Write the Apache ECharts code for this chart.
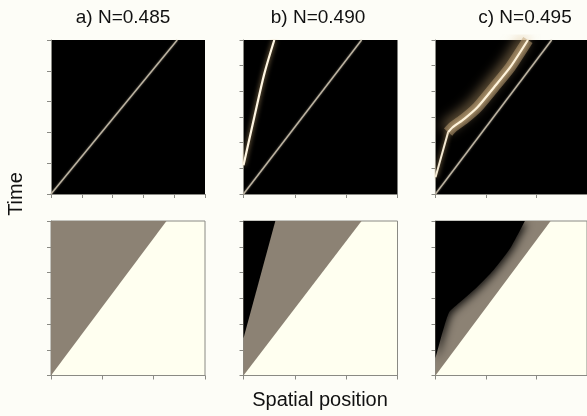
<!DOCTYPE html>
<html>
<head>
<meta charset="utf-8">
<script src="https://cdn.jsdelivr.net/npm/echarts@6/dist/echarts.min.js"></script>
<style>
  html, body { margin: 0; padding: 0; background: #fdfdf7; }
  #chart { width: 587px; height: 416px; }
</style>
</head>
<body>
<div id="chart"></div>
<script>
// panel titles
const titles = ['a) N=0.485', 'b) N=0.490', 'c) N=0.495'];

// top row: bright fronts in (space, time)
const frontA = [[0, 0], [4.1, 5]];
const frontB = [[0, 0], [2.3, 6]];
const pulseB = [[0, 1.12], [0.21, 2.99], [0.405, 4.68], [0.6, 6]];
const frontC = [[0, 0], [2.3, 6]];
const pulseC1 = [[0, 0.65], [0.25, 2.41]];
const pulseC2 = [[0.25, 2.41], [0.34, 2.6], [0.57, 2.93], [0.83, 3.38], [1.16, 4.16], [1.48, 4.94], [1.83, 6]];

// bottom row: region boundaries
const edgeA = [[0, 0], [2.25, 6]];
const edgeB = [[0, 0], [2.3, 6]];
const darkB = [[0, 1.45], [0.62, 6]];
const edgeC = [[0, 0], [2.28, 6]];
const darkC = [[0, 0.67], [0.26, 2.42], [0.5, 2.87], [0.83, 3.45], [1.15, 4.1], [1.48, 4.94], [1.77, 6]];

const chart = echarts.init(document.getElementById('chart'));

const lefts = [51, 243.5, 435.5];
const grids = [];
lefts.forEach(l => grids.push({ left: l, top: 40, width: 154, height: 154, show: true, backgroundColor: '#000', borderColor: '#000', borderWidth: 0 }));
lefts.forEach(l => grids.push({ left: l, top: 221, width: 154, height: 154.5, show: true, backgroundColor: '#fffff0', borderColor: '#8a8a84', borderWidth: 1 }));

const axisBase = {
  type: 'value',
  min: 0,
  interval: 1,
  axisLabel: { show: false },
  splitLine: { show: false },
  axisLine: { show: true, lineStyle: { color: '#8a8a84', width: 1 } },
  axisTick: { show: true, inside: false, length: 4, lineStyle: { color: '#8a8a84' } }
};

const xAxes = [], yAxes = [];
for (let i = 0; i < 6; i++) {
  const first = i === 0;
  xAxes.push(Object.assign({}, axisBase, { gridIndex: i, max: first ? 5 : 3 }));
  yAxes.push(Object.assign({}, axisBase, { gridIndex: i, max: first ? 5 : 6 }));
}

function line(idx, data, style, smooth) {
  return {
    type: 'line', xAxisIndex: idx, yAxisIndex: idx, data: data,
    symbol: 'none', silent: true, animation: false, clip: true,
    smooth: smooth || false,
    lineStyle: style
  };
}
function area(idx, data, color, extra, smooth) {
  return {
    type: 'line', xAxisIndex: idx, yAxisIndex: idx, data: data,
    symbol: 'none', silent: true, animation: false, clip: true,
    smooth: smooth || false,
    lineStyle: { width: 0 },
    areaStyle: Object.assign({ color: color, opacity: 1, origin: 'end' }, extra || {})
  };
}

const thin = { color: '#bdb4a2', width: 1.4, shadowBlur: 2, shadowColor: 'rgba(200,190,170,0.6)' };

const series = [
  line(0, frontA, thin),
  line(1, frontB, thin),
  line(1, pulseB, { color: '#fff6e2', width: 2.2, shadowBlur: 5, shadowColor: 'rgba(210,175,120,0.9)' }, 0.3),
  line(2, frontC, thin),
  line(2, pulseC1, { color: '#f3e9d3', width: 2, shadowBlur: 5, shadowColor: 'rgba(200,165,110,0.9)' }),
  line(2, pulseC2, { color: 'rgba(190,160,115,0.5)', width: 11, shadowBlur: 12, shadowColor: 'rgba(215,180,125,1)', shadowOffsetX: -3, shadowOffsetY: -3 }, 0.2),
  line(2, pulseC2, { color: '#fff4dc', width: 2.2, shadowBlur: 5, shadowColor: 'rgba(240,210,160,1)' }, 0.2),

  area(3, edgeA, '#8c8274'),
  area(4, edgeB, '#8c8274'),
  area(4, darkB, '#000'),
  area(5, edgeC, '#8c8274'),
  area(5, darkC, '#000', { shadowBlur: 8, shadowColor: 'rgba(0,0,0,0.9)', shadowOffsetX: 2, shadowOffsetY: 2 }, 0.2)
];

const titleX = [123, 318, 525];
const graphic = titles.map((t, i) => ({
  type: 'text', x: titleX[i], y: 18,
  style: { text: t, font: '19px "Liberation Sans", Arial, sans-serif', fill: '#111', textAlign: 'center', textVerticalAlign: 'middle' }
}));
graphic.push({
  type: 'text', x: 16, y: 194, rotation: Math.PI / 2,
  style: { text: 'Time', font: '20px "Liberation Sans", Arial, sans-serif', fill: '#111', textAlign: 'center', textVerticalAlign: 'middle' }
});
graphic.push({
  type: 'text', x: 320, y: 400,
  style: { text: 'Spatial position', font: '20px "Liberation Sans", Arial, sans-serif', fill: '#111', textAlign: 'center', textVerticalAlign: 'middle' }
});

chart.setOption({
  backgroundColor: '#fdfdf7',
  animation: false,
  grid: grids,
  xAxis: xAxes,
  yAxis: yAxes,
  series: series,
  graphic: graphic
});
</script>
</body>
</html>
